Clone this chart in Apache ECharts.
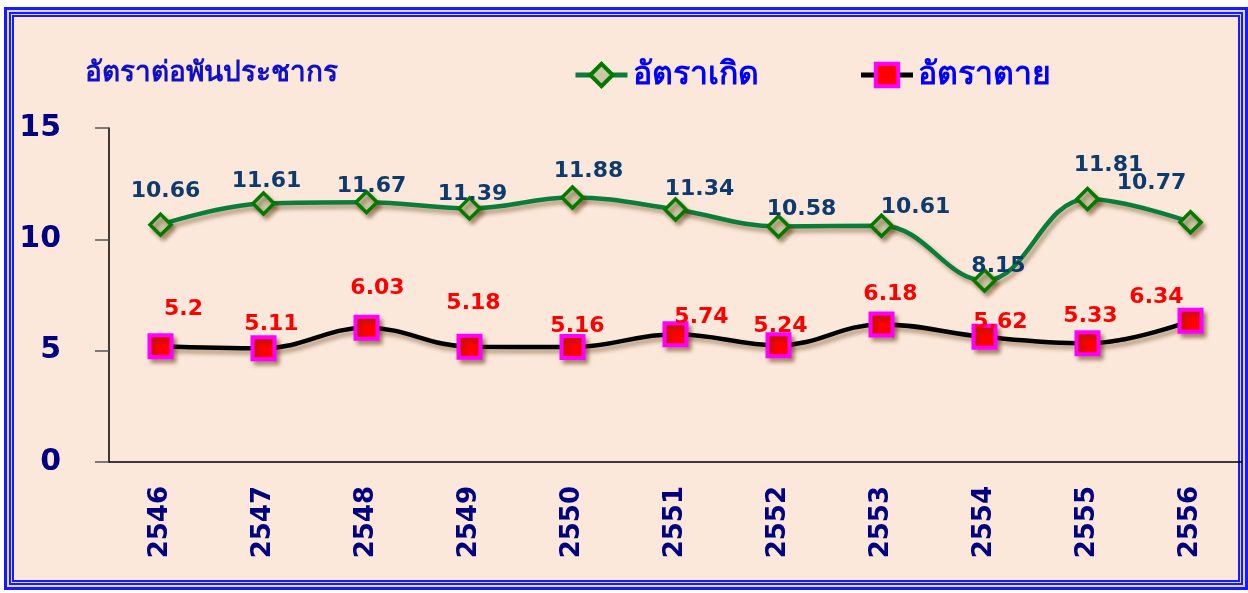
<!DOCTYPE html>
<html>
<head>
<meta charset="utf-8">
<script src="https://cdn.jsdelivr.net/npm/echarts@6/dist/echarts.min.js"></script>
<style>
  html, body { margin: 0; padding: 0; background: #ffffff; }
  #frame {
    position: absolute; left: 4px; top: 7px; width: 1244px; height: 583px;
    box-sizing: border-box; background: #fce8da;
    border: 3px solid #1a1aff;
    box-shadow: inset 0 0 0 2px #d8d8ff, inset 0 0 0 4px #1a1aff, inset 0 0 0 5px #d8d8ff, inset 0 0 0 7px #1a1aff;
  }
  #main { position: absolute; left: 0; top: 0; width: 1248px; height: 593px; }
</style>
</head>
<body>
<div id="frame"></div>
<div id="main"></div>
<script>
// ข้อมูล
var years = ['2546', '2547', '2548', '2549', '2550', '2551', '2552', '2553', '2554', '2555', '2556'];
var birthRate = [10.66, 11.61, 11.67, 11.39, 11.88, 11.34, 10.58, 10.61, 8.15, 11.81, 10.77];
var deathRate = [5.2, 5.11, 6.03, 5.18, 5.16, 5.74, 5.24, 6.18, 5.62, 5.33, 6.34];
var yTicks = [0, 5, 10, 15];

// label offsets (manually placed labels in the original)
var birthLabelOffset = [[5, -33], [3, -22], [5, -16], [3, -14], [16, -26], [24, -20], [23, -17], [34, -18], [14, -14], [21, -34], [-39, -39]];
var deathLabelOffset = [[23, -37], [8, -24], [11, -39], [4, -43], [5, -21], [26, -17], [2, -19], [9, -30], [16, -15], [3, -27], [-34, -24]];

var shadow = { shadowColor: 'rgba(90,50,10,0.45)', shadowBlur: 4, shadowOffsetX: 3, shadowOffsetY: 4 };
var labelFont = { fontSize: 22, fontWeight: 'bold', fontFamily: 'DejaVu Sans' };

var myChart = echarts.init(document.getElementById('main'));
myChart.setOption({
  backgroundColor: 'transparent',
  animation: false,
  title: {
    text: 'อัตราต่อพันประชากร',
    left: 80, top: 55,
    textStyle: { color: '#1010c8', fontSize: 28, fontWeight: 'bold', fontFamily: 'serif' }
  },
  legend: {
    left: 568, top: 54,
    itemWidth: 52, itemHeight: 28, itemGap: 100,
    textStyle: { color: '#0000ff', fontSize: 32, fontWeight: 'bold', fontFamily: 'sans-serif' },
    data: [
      { name: 'อัตราเกิด', lineStyle: { width: 5 }, itemStyle: { borderWidth: 4 } },
      { name: 'อัตราตาย', lineStyle: { width: 5 }, itemStyle: { borderWidth: 4 } }
    ]
  },
  grid: { left: 109, right: 6, top: 128, bottom: 131 },
  xAxis: {
    type: 'category',
    data: years,
    axisLine: { lineStyle: { color: '#000', width: 1.5 } },
    axisTick: { show: false },
    axisLabel: {
      rotate: 90, margin: 24, color: '#000080', fontSize: 26, fontWeight: 'bold',
      fontFamily: 'DejaVu Sans'
    }
  },
  yAxis: {
    type: 'value',
    min: yTicks[0], max: yTicks[yTicks.length - 1], interval: 5,
    splitLine: { show: false },
    axisLine: { show: true, lineStyle: { color: '#000', width: 1.5 } },
    axisTick: { show: true, length: 14, lineStyle: { color: '#555', width: 1.5 } },
    axisLabel: { margin: 48, color: '#000080', fontSize: 30, fontWeight: 'bold', fontFamily: 'DejaVu Sans' }
  },
  series: [{
    name: 'อัตราเกิด',
    type: 'line',
    smooth: 0.4,
    symbol: 'diamond',
    symbolSize: 21,
    lineStyle: Object.assign({ color: '#0a7d3a', width: 4.5 }, shadow),
    itemStyle: Object.assign({ color: '#cbc6a4', borderColor: '#007a00', borderWidth: 3.5 }, shadow),
    label: Object.assign({ show: true, position: 'inside', color: '#0d3b6e' }, labelFont),
    data: birthRate.map(function (v, i) { return { value: v, label: { offset: birthLabelOffset[i] } }; })
  }, {
    name: 'อัตราตาย',
    type: 'line',
    smooth: 0.4,
    symbol: 'rect',
    symbolSize: 22,
    lineStyle: Object.assign({ color: '#000000', width: 4.5 }, shadow),
    itemStyle: Object.assign({ color: '#ff0000', borderColor: '#ff00ff', borderWidth: 4 }, shadow),
    label: Object.assign({ show: true, position: 'inside', color: '#ff0000' }, labelFont),
    data: deathRate.map(function (v, i) { return { value: v, label: { offset: deathLabelOffset[i] } }; })
  }]
});
</script>
</body>
</html>
